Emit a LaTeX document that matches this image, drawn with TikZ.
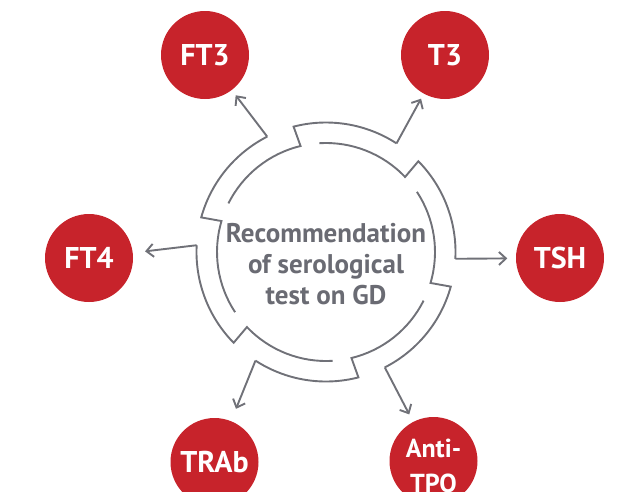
\documentclass[tikz,border=0pt]{standalone}
\usepackage{fontspec}
\setmainfont{PT Sans}
\usetikzlibrary{arrows.meta,calc}
\definecolor{testred}{HTML}{C7232B}
\definecolor{ringgray}{HTML}{707178}
\definecolor{textgray}{HTML}{6A6B73}
\begin{document}
\begin{tikzpicture}[x=1pt,y=1pt,
	test/.style={circle,fill=testred,minimum size=88pt,inner sep=0pt,text=white,font=\bfseries\fontsize{30}{34}\selectfont},
	ring/.style={draw=ringgray,line width=1.9pt},
	link/.style={draw=ringgray,line width=1.9pt,-{Straight Barb[length=7pt,width=13pt]}}]
	\useasboundingbox (0,0) rectangle (636,-491);
	
	\coordinate (ctr) at (326,-252);
	
	\node[font=\bfseries\fontsize{27}{31}\selectfont,text=textgray] (title) at (326,-267){\begin{tabular}{c}Recommendation\\ of serological\\ test on GD\end{tabular}};
	
	\node[test] (FT3) at (205,-55){FT3};
	\node[test] (T3) at (445,-55){T3};
	\node[test] (FT4) at (89,-258){FT4};
	\node[test] (TSH) at (560,-258){TSH};
	\node[test] (TRAb) at (214.5,-462){TRAb};
	\node[test,label={[yshift=-7pt,text=white,font=\bfseries\fontsize{26}{35}\selectfont]center:{\begin{tabular}{c}Anti-\\TPO\end{tabular}}}] (Anti) at (433.5,-461){};
	
	\draw[ring] ($(ctr)+(177:129.5)$) coordinate (hFT4) arc[start angle=177,end angle=224.5,radius=129.5] -- ($(ctr)+(223.5:109)$) arc[start angle=223.5,end angle=273.5,radius=109];
	\draw[ring] ($(ctr)+(117:129.5)$) coordinate (hFT3) arc[start angle=117,end angle=164.5,radius=129.5] -- ($(ctr)+(163.5:109)$) arc[start angle=163.5,end angle=213.5,radius=109];
	\draw[ring] ($(ctr)+(57:129.5)$) coordinate (hT3) arc[start angle=57,end angle=104.5,radius=129.5] -- ($(ctr)+(103.5:109)$) arc[start angle=103.5,end angle=153.5,radius=109];
	\draw[ring] ($(ctr)+(-3:129.5)$) coordinate (hTSH) arc[start angle=-3,end angle=44.5,radius=129.5] -- ($(ctr)+(43.5:109)$) arc[start angle=43.5,end angle=93.5,radius=109];
	\draw[ring] ($(ctr)+(-63:129.5)$) coordinate (hAnti) arc[start angle=-63,end angle=-15.5,radius=129.5] -- ($(ctr)+(-16.5:109)$) arc[start angle=-16.5,end angle=33.5,radius=109];
	\draw[ring] ($(ctr)+(-123:129.5)$) coordinate (hTRAb) arc[start angle=-123,end angle=-75.5,radius=129.5] -- ($(ctr)+(-76.5:109)$) arc[start angle=-76.5,end angle=-26.5,radius=109];
	
	\draw[link] (hFT3) -- ($(hFT3)!52pt!(FT3)$);
	\draw[link] (hT3) -- ($(hT3)!51pt!(T3)$);
	\draw[link] (hFT4) -- ($(hFT4)!52pt!(FT4)$);
	\draw[link] (hTSH) -- ($(hTSH)!52pt!(TSH)$);
	\draw[link] (hAnti) -- ($(hAnti)!53pt!(Anti)$);
	\draw[link] (hTRAb) -- ($(hTRAb)!52pt!(TRAb)$);
\end{tikzpicture}
\end{document}
